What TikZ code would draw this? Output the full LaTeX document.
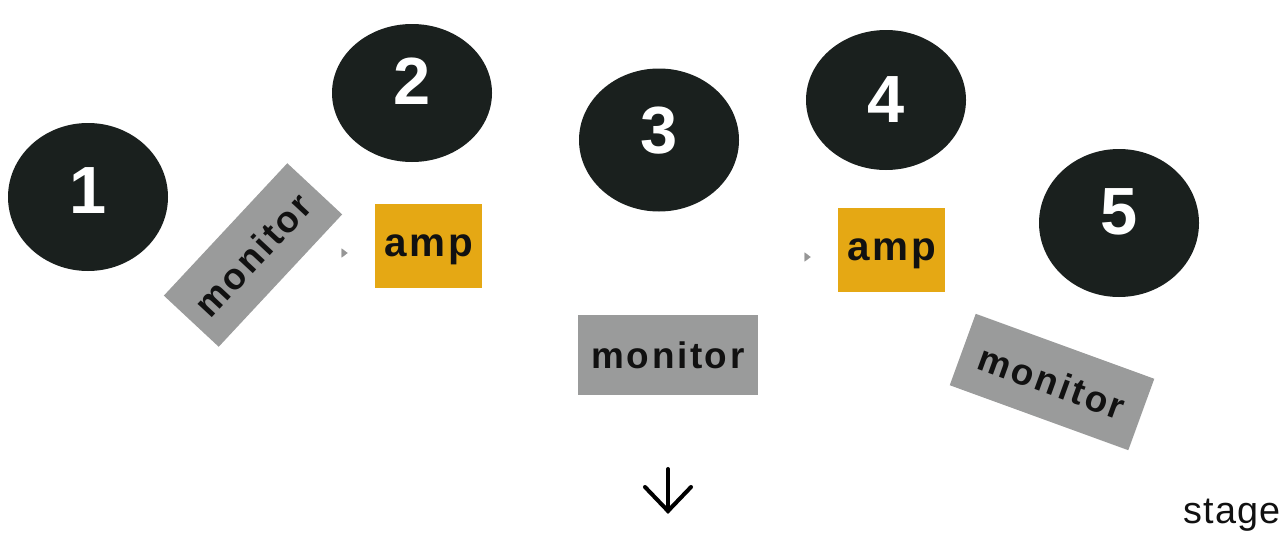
\documentclass[tikz,border=0pt]{standalone}
\usepackage{fontspec}
\setmainfont{Liberation Sans}
\usetikzlibrary{shapes.geometric,arrows.meta}
\definecolor{disc}{RGB}{26,32,30}
\definecolor{ampc}{RGB}{229,168,20}
\definecolor{monc}{RGB}{154,155,155}
\definecolor{ink}{RGB}{17,17,17}
\definecolor{tipc}{RGB}{150,150,150}
\tikzset{
  num/.style={ellipse, fill=disc, draw=none, inner sep=0pt,
    minimum width=160*0.02cm, minimum height=148*0.02cm},
  numtext/.style={inner sep=0pt, text=white, font=\fontsize{38}{38}\selectfont\bfseries},
  ampbox/.style={rectangle, fill=ampc, draw=none, inner sep=0pt, text depth=0pt,
    minimum width=107*0.02cm, minimum height=84*0.02cm,
    text=ink, font=\fontsize{23}{23}\selectfont\bfseries\addfontfeature{LetterSpace=7}},
  monbox/.style={rectangle, fill=monc, draw=none, inner sep=0pt,
    minimum width=180*0.02cm, minimum height=78*0.02cm,
    text=ink, font=\fontsize{21}{21}\selectfont\bfseries\addfontfeature{LetterSpace=7}},
  ghost/.style={draw=white, line width=0.1pt, shorten >=27*0.02cm,
    -{Triangle[tipc, length=6*0.02cm, width=9*0.02cm]}},
  downarrow/.style={draw=black, line width=2.3pt, line cap=round},
}
\begin{document}
\begin{tikzpicture}[x=0.02cm, y=-0.02cm]
\useasboundingbox (0,0) rectangle (1287,534);
% numbered discs
\node[num, label={[numtext, yshift=6*0.02cm]center:1}] (n1) at (88,197) {};
\node[num, minimum height=138*0.02cm, label={[numtext, yshift=12*0.02cm]center:2}] (n2) at (412,93) {};
\node[num, minimum height=143*0.02cm, label={[numtext, yshift=9*0.02cm]center:3}] (n3) at (659,140) {};
\node[num, minimum height=140*0.02cm, label={[numtext]center:4}] (n4) at (886,100) {};
\node[num, label={[numtext, yshift=11*0.02cm]center:5}] (n5) at (1119,223) {};
% amps
\node[ampbox] (amp1) at (428.5,245.5) {amp};
\node[ampbox] (amp2) at (891.5,250) {amp};
% monitors
\node[monbox, minimum width=181*0.02cm, minimum height=75*0.02cm, rotate=47] (mon1) at (253,255) {monitor};
\node[monbox, minimum height=80*0.02cm] (mon2) at (668,355) {monitor};
\node[monbox, minimum width=190*0.02cm, minimum height=76*0.02cm, rotate=-20] (mon3) at (1052,382) {monitor};
% faint connectors (only tips visible)
\coordinate (g1) at (318,253);
\coordinate (g2) at (780,257);
\draw[ghost] (g1) -- (amp1.west |- g1);
\draw[ghost] (g2) -- (amp2.west |- g2);
% down arrow
\coordinate (dtop) at (668,469);
\coordinate (dbot) at (668,511);
\draw[downarrow] (dtop) -- (dbot);
\draw[downarrow, line join=miter] ([shift={(-23,-24)}]dbot) -- (dbot) -- ([shift={(23,-24)}]dbot);
% stage label
\node[anchor=east, inner sep=0pt, text=ink, font=\fontsize{21.5}{21.5}\selectfont\addfontfeature{LetterSpace=3}] (stage) at (1281,515) {stage};
\end{tikzpicture}
\end{document}
